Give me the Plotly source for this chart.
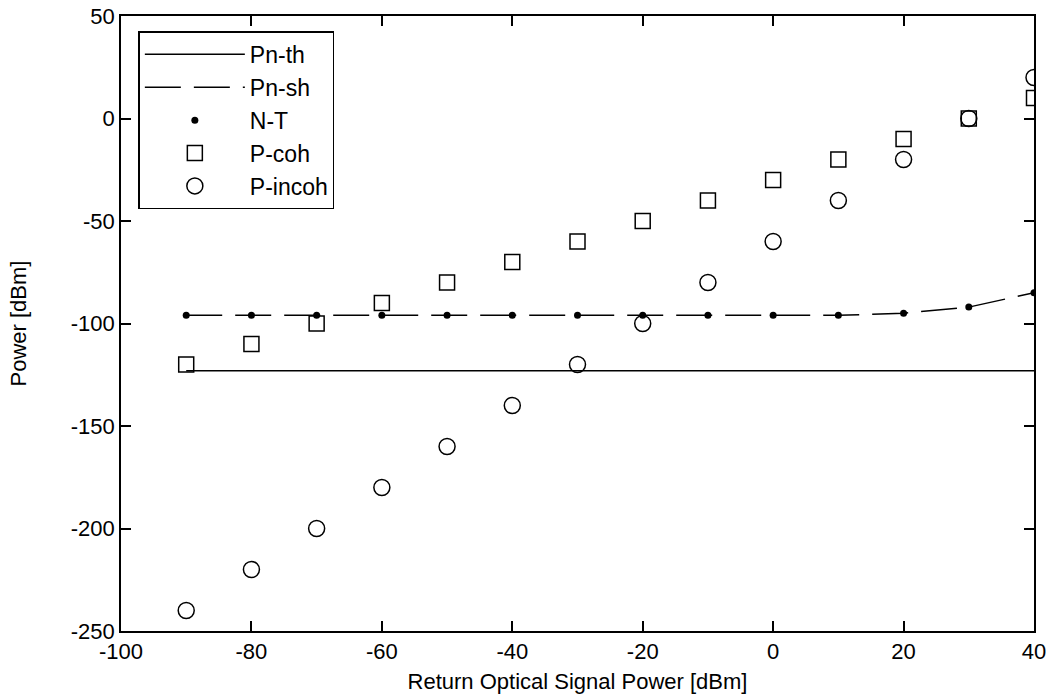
import plotly.graph_objects as go

x_vals = [-90, -80, -70, -60, -50, -40, -30, -20, -10, 0, 10, 20, 30, 40]
pn_th = [-123] * 14
pn_sh = [-96, -96, -96, -96, -96, -96, -96, -96, -96, -96, -96, -95, -92, -85]
n_t = [-96, -96, -96, -96, -96, -96, -96, -96, -96, -96, -96, -95, -92, -85]
p_coh = [-120, -110, -100, -90, -80, -70, -60, -50, -40, -30, -20, -10, 0, 10]
p_incoh = [-240, -220, -200, -180, -160, -140, -120, -100, -80, -60, -40, -20, 0, 20]

x_ticks = [-100, -80, -60, -40, -20, 0, 20, 40]
y_ticks = [50, 0, -50, -100, -150, -200, -250]

FONT = "Liberation Sans, Arial, sans-serif"

fig = go.Figure()
fig.add_trace(go.Scatter(x=x_vals, y=pn_th, mode="lines", name="Pn-th",
                         line=dict(color="black", width=1.5)))
fig.add_trace(go.Scatter(x=x_vals, y=pn_sh, mode="lines", name="Pn-sh",
                         line=dict(color="black", width=1.5, dash="36px,13px")))
fig.add_trace(go.Scatter(x=x_vals, y=n_t, mode="markers", name="N-T",
                         marker=dict(color="black", size=7, symbol="circle")))
fig.add_trace(go.Scatter(x=x_vals, y=p_coh, mode="markers", name="P-coh",
                         marker=dict(color="black", size=15, symbol="square-open",
                                     line=dict(width=1.5))))
fig.add_trace(go.Scatter(x=x_vals, y=p_incoh, mode="markers", name="P-incoh",
                         marker=dict(color="black", size=16, symbol="circle-open",
                                     line=dict(width=1.5))))

axis_common = dict(
    showgrid=False, zeroline=False, showline=True, linecolor="black", linewidth=1.5,
    mirror="ticks", ticks="inside", ticklen=10, tickwidth=1.5, tickcolor="black",
    tickfont=dict(family=FONT, size=22, color="black"), automargin=False,
)

fig.update_xaxes(range=[-100, 40], tickvals=x_ticks, ticktext=[str(v) for v in x_ticks],
                 title=dict(text="Return Optical Signal Power [dBm]",
                            font=dict(family=FONT, size=22, color="black"), standoff=10),
                 **axis_common)
fig.update_yaxes(range=[-250, 50], tickvals=y_ticks, ticktext=[str(v) for v in y_ticks],
                 title=dict(text="Power [dBm]",
                            font=dict(family=FONT, size=22, color="black"), standoff=38),
                 **axis_common)

fig.update_layout(
    width=1051, height=700,
    margin=dict(l=121, r=17, t=16, b=69),
    paper_bgcolor="white", plot_bgcolor="white",
    font=dict(family=FONT, size=22, color="black"),
    legend=dict(x=0.019, y=0.975, xanchor="left", yanchor="top",
                bgcolor="white", bordercolor="black", borderwidth=1.5,
                itemwidth=100, font=dict(family=FONT, size=23, color="black"),
                tracegroupgap=0),
    showlegend=True,
)

fig.write_html("out.html")
